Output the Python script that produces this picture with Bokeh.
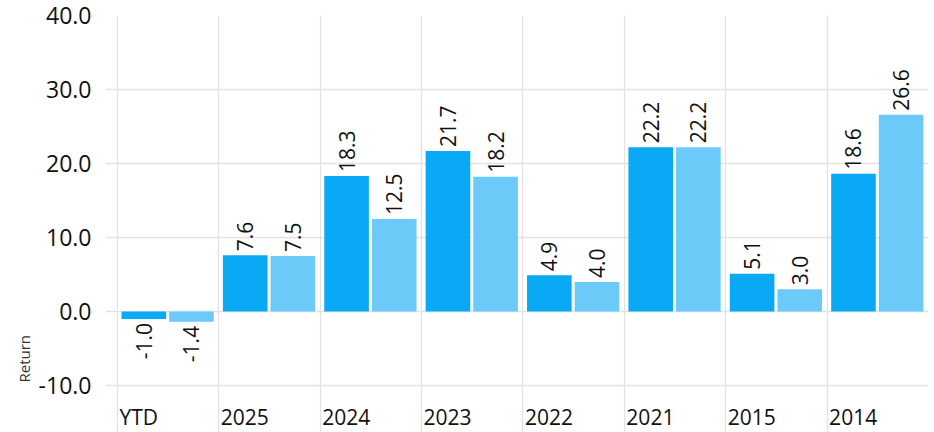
import math
from bokeh.plotting import figure
from bokeh.models import ColumnDataSource, FixedTicker, PrintfTickFormatter, Title, Range1d
from bokeh.core.properties import value
from bokeh.embed import file_html
from bokeh.resources import INLINE

categories = ["YTD", "2025", "2024", "2023", "2022", "2021", "2015", "2014"]
series_a = [-1.0, 7.6, 18.3, 21.7, 4.9, 22.2, 5.1, 18.6]
series_b = [-1.4, 7.5, 12.5, 18.2, 4.0, 22.2, 3.0, 26.6]
y_ticks = [-10, 0, 10, 20, 30, 40]

FONT = "Open Sans"
DARK = "#0AA9F5"
LIGHT = "#6BCAF8"
GRID = "#e2e2e2"

p = figure(width=928, height=432, output_backend="svg", toolbar_location=None,
           x_range=Range1d(-0.118, 8.0), y_range=Range1d(-16.35, 40.0),
           x_axis_location=None, min_border_left=105, min_border_right=0,
           min_border_top=15, min_border_bottom=0)
p.outline_line_color = None
p.background_fill_color = "white"

idx = list(range(len(categories)))
bar_w = 0.44
src = ColumnDataSource(dict(
    xa=[i + 0.26 for i in idx], xb=[i + 0.73 for i in idx],
    a=series_a, b=series_b,
    la=[f"{v:.1f}" for v in series_a], lb=[f"{v:.1f}" for v in series_b],
))

p.vbar(x="xa", top="a", bottom=0, width=bar_w, source=src, fill_color=DARK, line_color=None)
p.vbar(x="xb", top="b", bottom=0, width=bar_w, source=src, fill_color=LIGHT, line_color=None)

# value labels
for xcol, vals, lcol in (("xa", series_a, "la"), ("xb", series_b, "lb")):
    pos = [k for k, v in enumerate(vals) if v >= 0]
    neg = [k for k, v in enumerate(vals) if v < 0]
    for sel, align, off in ((pos, "left", -4), (neg, "right", 4)):
        if not sel:
            continue
        s = ColumnDataSource(dict(x=[src.data[xcol][k] for k in sel],
                                  y=[vals[k] for k in sel],
                                  t=[src.data[lcol][k] for k in sel]))
        p.text(x="x", y="y", text="t", source=s, angle=math.pi / 2,
               text_align=align, text_baseline="middle", y_offset=off,
               text_font=value(FONT), text_font_size="21px", text_color="#111111")

# category labels
cat_src = ColumnDataSource(dict(x=idx, y=[-14.3] * len(idx), t=categories))
p.text(x="x", y="y", text="t", source=cat_src, x_offset=2,
       text_align="left", text_baseline="alphabetic",
       text_font=value(FONT), text_font_size="21px", text_color="#111111")

# grids
p.xgrid.ticker = FixedTicker(ticks=list(range(len(categories) + 1)))
p.xgrid.grid_line_color = GRID
p.xgrid.grid_line_width = 1.3
p.ygrid.ticker = FixedTicker(ticks=y_ticks)
p.ygrid.grid_line_color = GRID
p.ygrid.grid_line_width = 1.3

# y axis
ax = p.yaxis[0]
ax.ticker = FixedTicker(ticks=y_ticks)
ax.formatter = PrintfTickFormatter(format="%.1f")
ax.axis_line_color = None
ax.major_tick_line_color = None
ax.minor_tick_line_color = None
ax.major_label_standoff = 8
ax.major_label_text_font = FONT
ax.major_label_text_font_size = "23px"
ax.major_label_text_color = "#111111"

p.add_layout(Title(text="Return", align="left", offset=50, standoff=4,
                   text_font=FONT, text_font_size="15px", text_font_style="normal",
                   text_color="#333333"), "left")

open("out.html", "w").write(file_html(p, INLINE))
